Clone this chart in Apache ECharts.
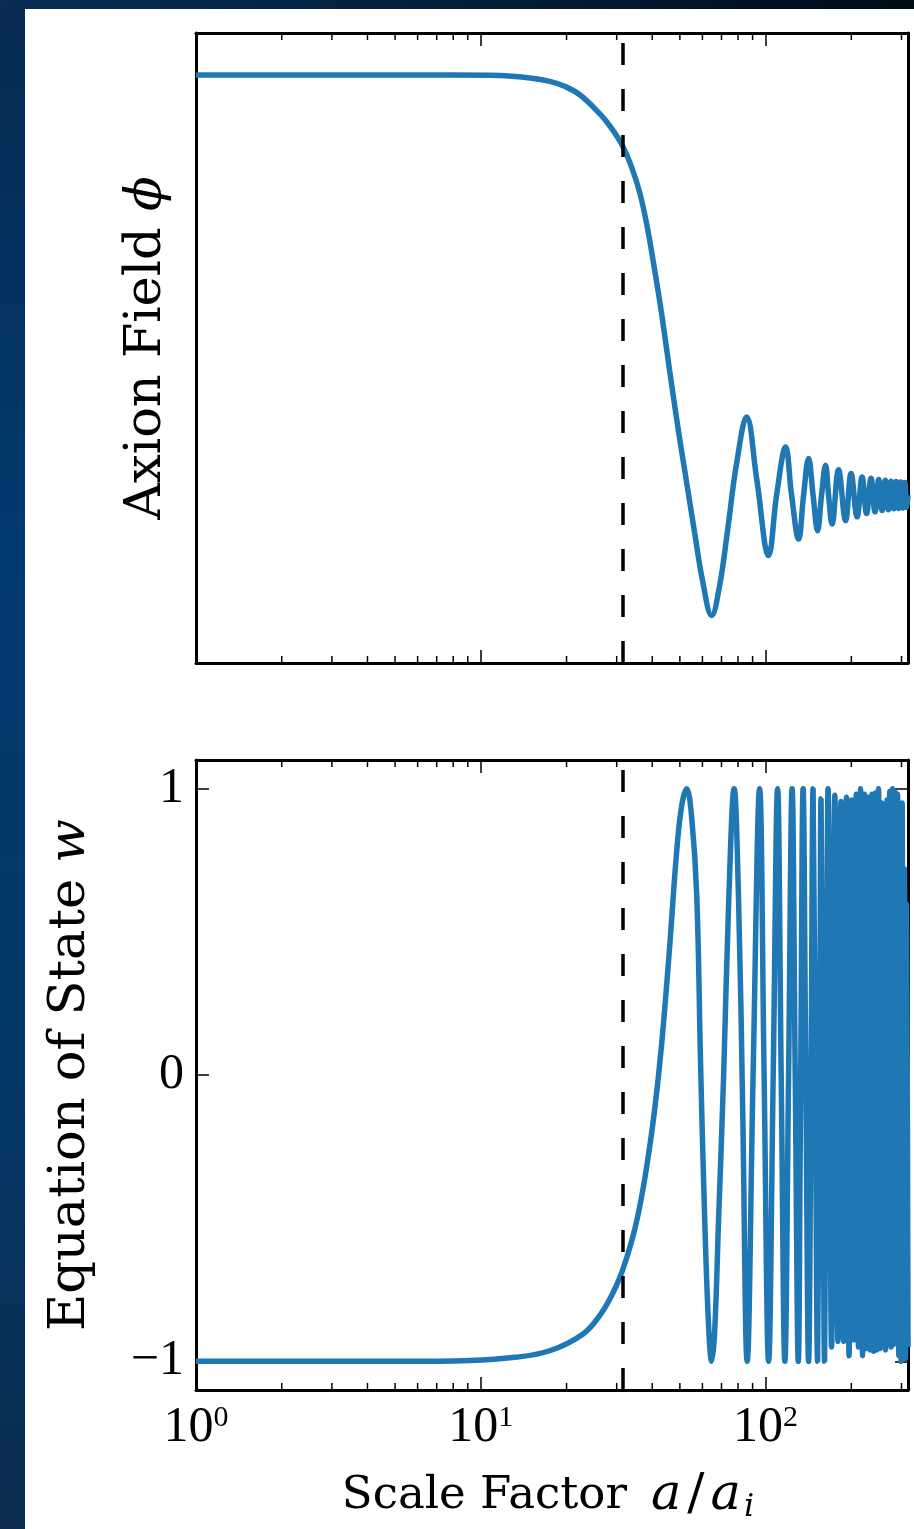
<!DOCTYPE html>
<html>
<head>
<meta charset="utf-8">
<script src="https://cdn.jsdelivr.net/npm/echarts@6/dist/echarts.min.js"></script>
<style>
  html, body { margin: 0; padding: 0; background: #fff; }
  #bgLeft { position: absolute; left: 0; top: 0; width: 25px; height: 1529px;
    background: linear-gradient(#072a52, #013a6e 35%, #033868 70%, #0b2c4e); }
  #bgTop { position: absolute; left: 0; top: 0; width: 914px; height: 9px;
    background: linear-gradient(90deg, #082c54, #04203e 45%, #000b16); }
  #chart { position: absolute; left: 0; top: 0; width: 914px; height: 1529px; }
</style>
</head>
<body>
<div id="bgLeft"></div>
<div id="bgTop"></div>
<div id="chart"></div>
<script>
// 上图: 轴子场 phi (a/a_i 取对数坐标)
const phiA = [1, 3.47, 7.78, 11.66, 14.86, 17.46, 19.71, 22.26, 26.15, 28.36,
  31.24, 33.87, 36.13, 38.24, 40.79, 43.17, 46.05, 49.11, 52.81, 56.34,
  60.10, 64.65, 68.97, 73.57, 79.09, 85.79, 92.98, 102.45, 109.29, 117.54,
  123.35, 130.56, 135.94, 141.55, 146.78, 152.21, 157.20, 162.35, 166.35, 171.09,
  180.30, 190.84, 199.53, 209.49, 218.10, 226.17, 234.55, 242.15, 249.51, 256.44,
  263.20, 269.65, 275.81, 281.65, 287.42, 292.83, 298.07, 303.19, 308.12, 312.90, 316.2];
const phiVal = [1.0, 1.0, 1.0, 0.999, 0.993, 0.985, 0.973, 0.953, 0.908, 0.879,
  0.835, 0.78, 0.72, 0.645, 0.535, 0.43, 0.295, 0.165, 0.03, -0.09,
  -0.205, -0.287, -0.215, -0.083, 0.075, 0.186, 0.04, -0.144, 0.0, 0.114,
  0.0, -0.105, 0.0, 0.087, 0.0, -0.085, 0.0, 0.071, 0.0, -0.069,
  0.06, -0.061, 0.051, -0.052, 0.043, -0.044, 0.04, -0.04, 0.037, -0.037,
  0.035, -0.035, 0.033, -0.033, 0.032, -0.032, 0.031, -0.031, 0.03, -0.03, 0.0];

// 下图: 状态方程 w
const wA = [1, 5.198, 9.150, 13.16, 17.46, 22.80, 26.15, 28.81, 31.24, 33.87,
  36.13, 38.24, 40.79, 43.17, 46.05, 48.72, 50.73, 52.81, 55.0, 57.29,
  59.14, 61.10, 63.10, 64.65, 66.22, 68.40, 71.24, 74.17, 77.51, 80.41,
  83.02, 86.15, 90.38, 95.26, 98.79, 102.45, 106.34, 110.18, 113.42, 116.86,
  120.42, 123.88, 127.04, 130.23, 132.80, 135.41, 138.40, 141.55, 144.40, 146.78,
  149.41, 152.21, 154.70, 156.56, 158.74, 161.06, 163.31, 165.70,
  170.42, 175.04, 179.47, 183.90, 188.10, 192.26, 196.34, 200.36, 204.28, 208.09,
  211.84, 215.44, 219.00, 222.56, 225.94, 229.46, 232.81, 236.21, 239.50, 242.84,
  245.99, 249.18, 252.42, 255.52, 258.00, 260.51, 263.70, 266.69, 269.65, 272.73,
  275.81, 278.95, 281.91, 284.85, 287.89, 290.69, 293.52, 296.17, 299.05, 301.68,
  304.38, 307.13, 309.83, 312.40, 316.2];
const wVal = [-1, -1, -0.997, -0.986, -0.963, -0.905, -0.84, -0.77, -0.69, -0.58,
  -0.46, -0.32, -0.12, 0.11, 0.45, 0.78, 0.94, 1.0, 0.9, 0.63,
  0.03, -0.5, -0.88, -1.0, -0.9, -0.5, 0.0, 0.6, 1.0, 0.6,
  -0.1, -1.0, 0.0, 1.0, 0.0, -1.0, 0.0, 1.0, 0.0, -1.0,
  0.0, 1.0, 0.0, -1.0, 0.0, 1.0, 0.0, -1.0, 0.0, 1.0,
  0.0, -1.0, 0.0, 0.965, 0.0, -1.0, 0.0, 1.0,
  -0.95, 0.977, -0.93, 0.955, -0.93, 0.97, -0.98, 0.96, -0.925, 0.98,
  -0.95, 1.0, -0.98, 0.98, -0.955, 0.97, -0.96, 0.98, -0.965, 0.985,
  -0.96, 1.0, -0.955, 0.95, -0.87, 0.89, -0.96, 0.96, -0.86, 0.99,
  -0.95, 1.0, -0.94, 0.99, -0.93, 0.98, -0.98, 0.85, -1.0, 0.95,
  -0.99, 0.72, -0.99, 0.6, -0.95];

const minorTicks = [2, 3, 4, 5, 6, 7, 8, 9, 20, 30, 40, 50, 60, 70, 80, 90, 200, 300];
const yTicksW = [-1, 0, 1];
const dashedA = 31.62;
const xMin = 1;
const xMax = 316.2;

const blue = '#1f77b4';
const serif = 'DejaVu Serif';
const digits = 'Liberation Serif';

function zip(xs, ys) {
    return xs.map((x, i) => [x, ys[i]]);
}

function frameLine() {
    return { show: true, onZero: false, lineStyle: { color: '#000', width: 3 } };
}

function logAxis(grid, pos, withLabels) {
    const ax = {
        type: 'log', logBase: 10, gridIndex: grid, position: pos, min: xMin, max: xMax,
        axisLine: frameLine(),
        axisTick: { show: true, inside: true, length: 13, lineStyle: { color: '#000', width: 1.5 } },
        axisLabel: { show: false },
        splitLine: { show: false }
    };
    if (withLabels) {
        ax.axisLabel = {
            show: true, margin: 13, showMaxLabel: false,
            formatter: v => '{b|10}{s|' + Math.round(Math.log10(v)) + '}',
            rich: {
                b: { fontFamily: digits, fontSize: 50, lineHeight: 50, color: '#000' },
                s: { fontFamily: digits, fontSize: 30, lineHeight: 26, verticalAlign: 'top', color: '#000' }
            }
        };
        ax.name = '{r|Scale Factor}{m1|a}{sl|/}{m|a}{sub|i}';
        ax.nameLocation = 'middle';
        ax.nameGap = 78;
        ax.nameTextStyle = {
            padding: [0, 8, 0, 0],
            rich: {
                r: { fontFamily: serif, fontSize: 45, lineHeight: 56, color: '#000' },
                m1: { fontFamily: serif, fontStyle: 'italic', fontSize: 51, lineHeight: 56, color: '#000', padding: [0, 0, 0, 24] },
                m: { fontFamily: serif, fontStyle: 'italic', fontSize: 51, lineHeight: 56, color: '#000' },
                sl: { fontFamily: serif, fontSize: 51, lineHeight: 56, color: '#000', padding: [0, 6, 0, 6] },
                sub: { fontFamily: serif, fontStyle: 'italic', fontSize: 32, lineHeight: 40, verticalAlign: 'bottom', color: '#000', padding: [0, 0, 0, 3] }
            }
        };
    }
    return ax;
}

// 次刻度 (对数轴 2..9)
function renderMinorTick(params, api) {
    const x = api.coord([api.value(0), api.value(1)])[0];
    const cs = params.coordSys;
    const st = { stroke: '#000', lineWidth: 1.5 };
    return {
        type: 'group',
        children: [
            { type: 'line', shape: { x1: x, y1: cs.y + cs.height, x2: x, y2: cs.y + cs.height - 7 }, style: st },
            { type: 'line', shape: { x1: x, y1: cs.y, x2: x, y2: cs.y + 7 }, style: st }
        ]
    };
}

const dashedMark = {
    silent: true,
    symbol: 'none',
    label: { show: false },
    lineStyle: { color: '#000', width: 3.5, type: [22, 24] },
    data: [{ xAxis: dashedA }]
};

const yNameRich = {
    r: { fontFamily: serif, fontSize: 51, lineHeight: 60, color: '#000' },
    m: { fontFamily: serif, fontStyle: 'italic', fontSize: 51, lineHeight: 60, color: '#000' }
};

const chart = echarts.init(document.getElementById('chart'));
chart.setOption({
    animation: false,
    grid: [
        { left: 196, right: 6, top: 33, height: 630 },
        { left: 196, right: 6, top: 760, height: 630 }
    ],
    xAxis: [
        logAxis(0, 'bottom', false),
        logAxis(0, 'top', false),
        logAxis(1, 'bottom', true),
        logAxis(1, 'top', false)
    ],
    yAxis: [
        {
            type: 'value', gridIndex: 0, position: 'left', min: -0.4, max: 1.1,
            axisLine: frameLine(), axisTick: { show: false }, axisLabel: { show: false },
            splitLine: { show: false },
            name: '{r|Axion Field }{m|ϕ}', nameLocation: 'middle', nameRotate: 90, nameGap: 19,
            nameTextStyle: { rich: yNameRich }
        },
        {
            type: 'value', gridIndex: 0, position: 'right', min: -0.4, max: 1.1,
            axisLine: frameLine(), axisTick: { show: false }, axisLabel: { show: false },
            splitLine: { show: false }
        },
        {
            type: 'value', gridIndex: 1, position: 'left', min: -1.1, max: 1.1,
            axisLine: frameLine(),
            axisTick: { show: true, inside: true, length: 13, customValues: yTicksW, lineStyle: { color: '#000', width: 1.5 } },
            axisLabel: {
                show: true, margin: 12, customValues: yTicksW,
                fontFamily: digits, fontSize: 50, color: '#000',
                formatter: v => (v < 0 ? '\u2212' + Math.abs(v) : String(v))
            },
            splitLine: { show: false },
            name: '{r|Equation of State }{m|w}', nameLocation: 'middle', nameRotate: 90, nameGap: 95,
            nameTextStyle: { rich: yNameRich }
        },
        {
            type: 'value', gridIndex: 1, position: 'right', min: -1.1, max: 1.1,
            axisLine: frameLine(),
            axisTick: { show: true, inside: true, length: 13, customValues: yTicksW, lineStyle: { color: '#000', width: 1.5 } },
            axisLabel: { show: false },
            splitLine: { show: false }
        }
    ],
    series: [
        {
            type: 'line', xAxisIndex: 0, yAxisIndex: 0,
            data: zip(phiA, phiVal), smooth: 0.4, showSymbol: false,
            lineStyle: { color: blue, width: 5.5 },
            markLine: dashedMark
        },
        {
            type: 'line', xAxisIndex: 2, yAxisIndex: 2,
            data: zip(wA, wVal), smooth: 0.4, showSymbol: false,
            lineStyle: { color: blue, width: 5.5 },
            markLine: dashedMark
        },
        {
            type: 'custom', xAxisIndex: 0, yAxisIndex: 0, silent: true, z: 5,
            data: minorTicks.map(v => [v, 0]), renderItem: renderMinorTick
        },
        {
            type: 'custom', xAxisIndex: 2, yAxisIndex: 2, silent: true, z: 5,
            data: minorTicks.map(v => [v, 0]), renderItem: renderMinorTick
        }
    ]
});
</script>
</body>
</html>
